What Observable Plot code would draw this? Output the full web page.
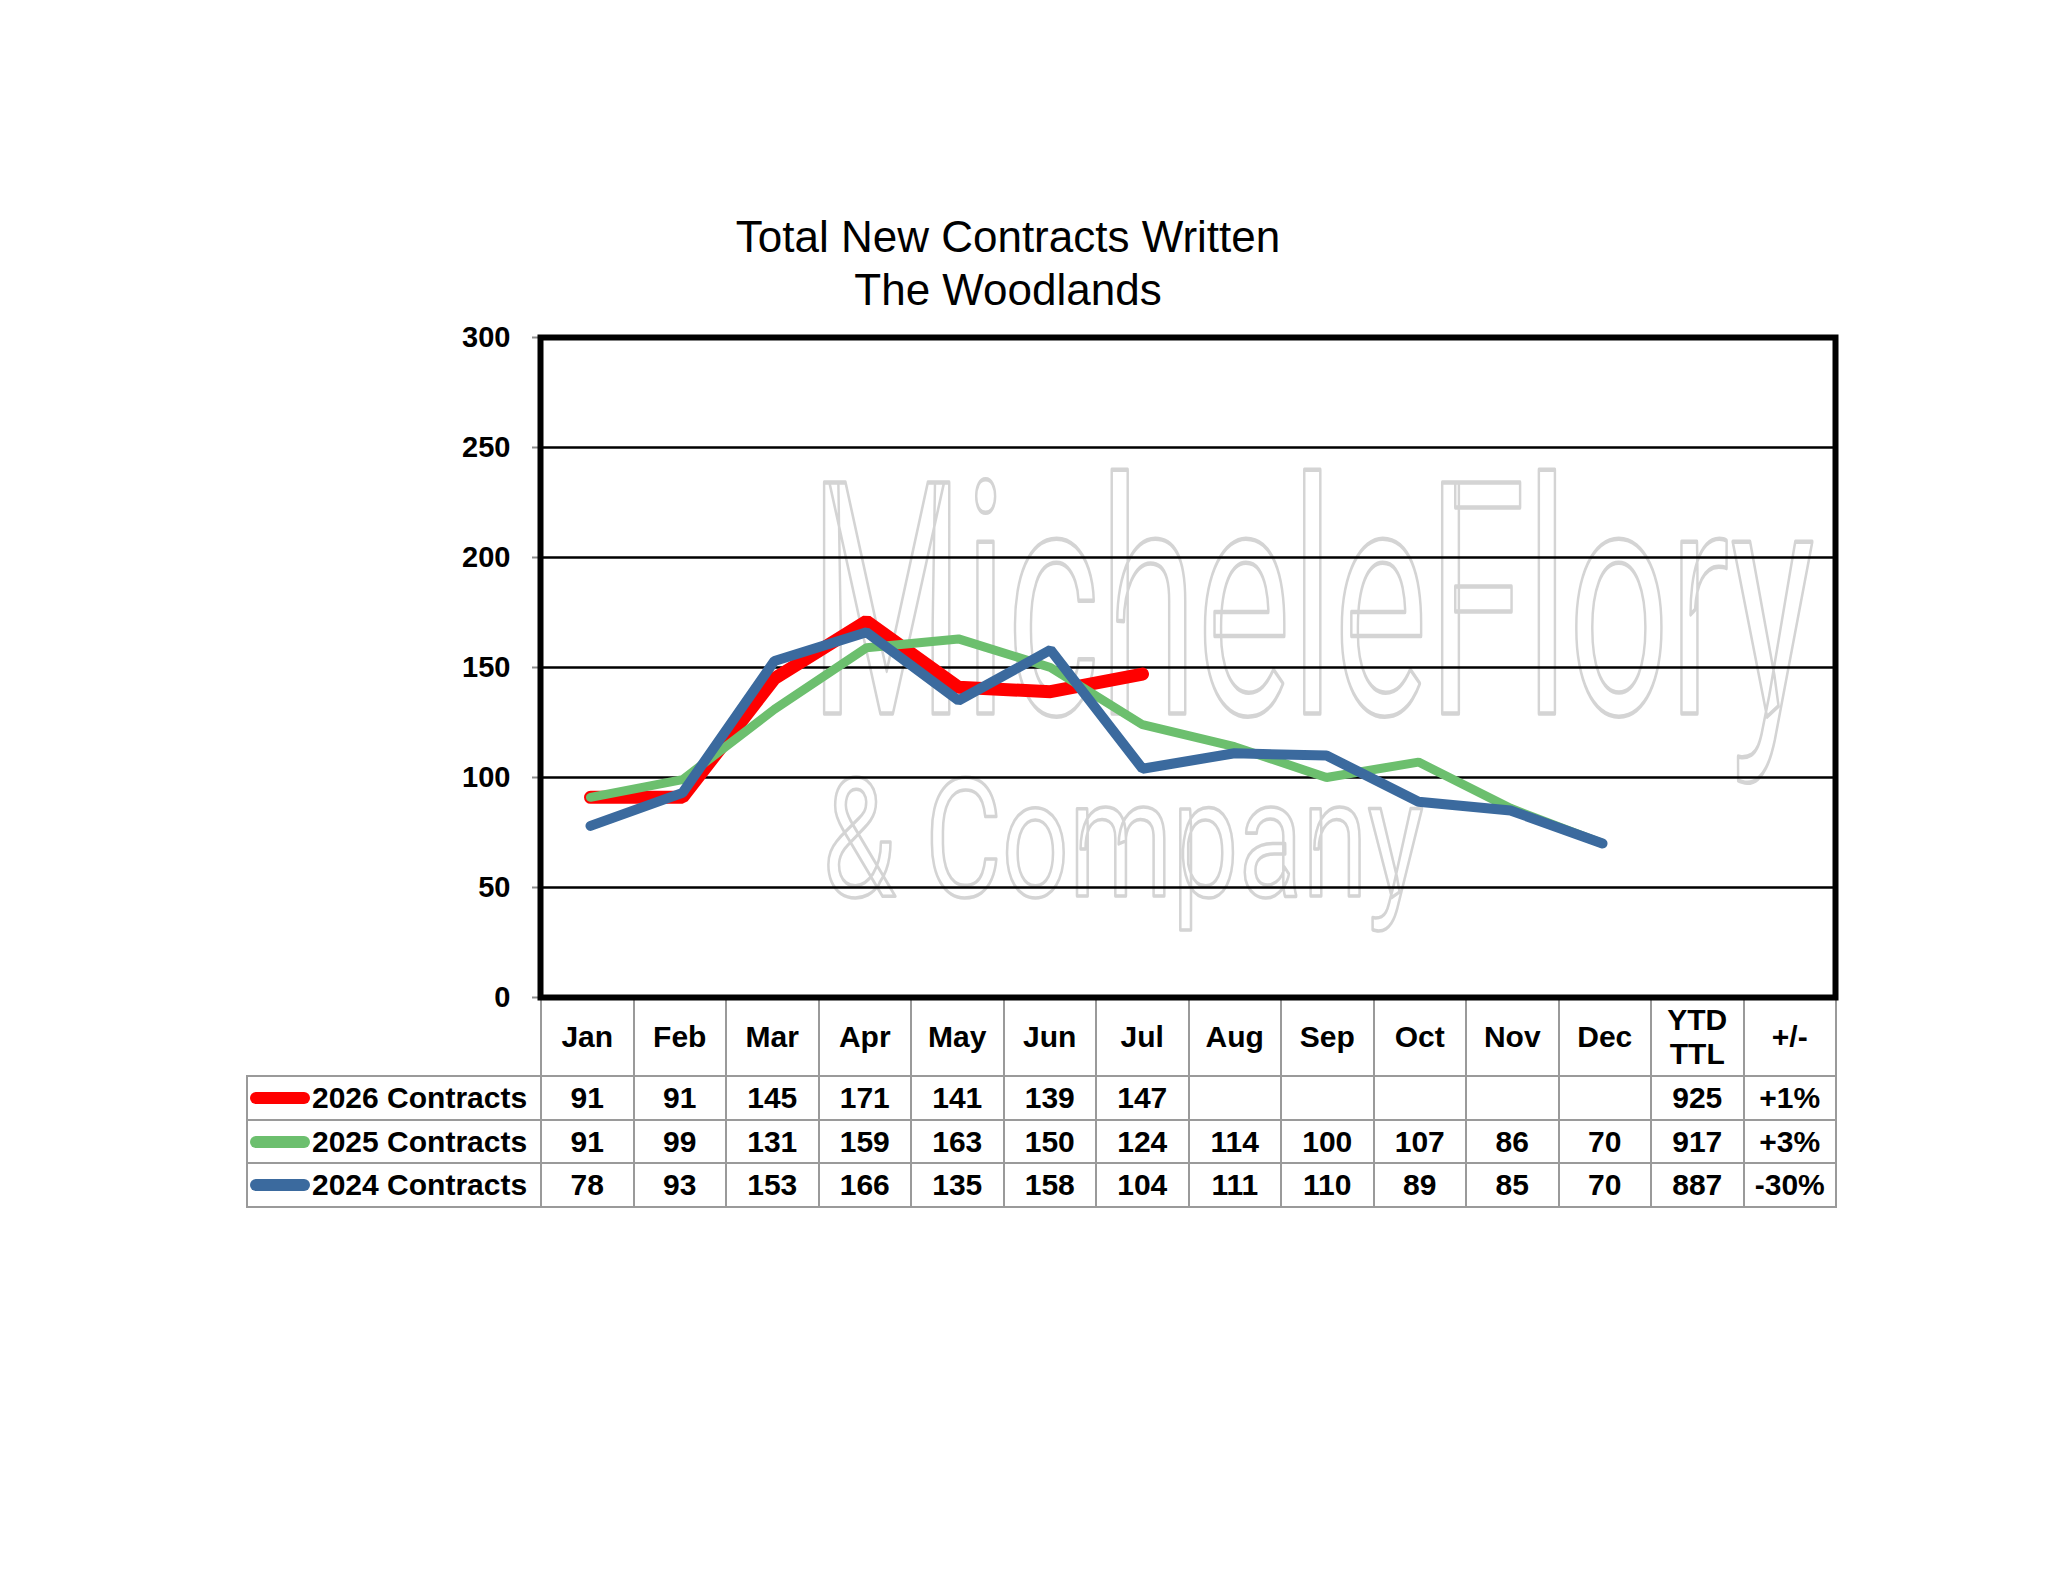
<!DOCTYPE html>
<html>
<head>
<meta charset="utf-8">
<script src="https://cdn.jsdelivr.net/npm/d3@7"></script>
<script src="https://cdn.jsdelivr.net/npm/@observablehq/plot@0.6"></script>
<style>
  html, body { margin: 0; padding: 0; background: #fff; }
  #page { position: relative; width: 2048px; height: 1583px; background: #fff; overflow: hidden;
          font-family: "Liberation Sans", Arial, sans-serif; color: #000; }
  .title { position: absolute; left: 0; width: 2016px; text-align: center; font-size: 44px;
           line-height: 53px; font-weight: normal; }
  #chart { position: absolute; left: 460px; top: 322px; z-index: 2; }
  #table { position: absolute; left: 246px; top: 997px; border-collapse: collapse; table-layout: fixed;
           font-size: 30px; font-weight: bold; z-index: 1; }
  #table td { border: 2px solid #9a9a9a; text-align: center; padding: 0; white-space: nowrap; }
  #table tr.head td { height: 76px; line-height: 34px; }
  #table tr.row td { height: 41.5px; line-height: 41px; }
  #table td.blank { border: none; }
  #table td.legend { text-align: left; padding-left: 2px; }
  .sw { display: inline-block; width: 60px; height: 12px; border-radius: 6px; vertical-align: middle;
        margin-right: 2px; position: relative; top: -2px; }
</style>
</head>
<body>
<div id="page">
  <div class="title" style="top:210px">Total New Contracts Written</div>
  <div class="title" style="top:263px">The Woodlands</div>
  <div id="chart"></div>
  <table id="table"></table>
</div>
<script>
// ---- data ----
const months = ["Jan","Feb","Mar","Apr","May","Jun","Jul","Aug","Sep","Oct","Nov","Dec"];
const extraColumns = ["YTD TTL", "+/-"];
const seriesNames = ["2026 Contracts", "2025 Contracts", "2024 Contracts"];
const values2026 = [91, 91, 145, 171, 141, 139, 147];
const values2025 = [91, 99, 131, 159, 163, 150, 124, 114, 100, 107, 86, 70];
const values2024 = [78, 93, 153, 166, 135, 158, 104, 111, 110, 89, 85, 70];
const ytdTotals = [925, 917, 887];
const changes = ["+1%", "+3%", "-30%"];
const yTicks = [0, 50, 100, 150, 200, 250, 300];
const watermarkLines = ["MicheleFlory", "& Company"];

// ---- styles ----
const seriesColors = ["#ff0000", "#6cbf6e", "#3b6a9e"];
const seriesWidths = [13, 9, 10];
const watermarkWidths = [1005, 601];

const columns = [...months, ...extraColumns];
const seriesValues = [values2026, values2025, values2024];
const rows = seriesValues.map((vals, i) =>
  vals.map((v, j) => ({series: seriesNames[i], month: months[j], value: v})));

const chart = Plot.plot({
  width: 1385,
  height: 690,
  marginLeft: 80,
  marginRight: 10,
  marginTop: 15,
  marginBottom: 15,
  style: {fontFamily: "'Liberation Sans', Arial, sans-serif", fontSize: "29px", fontWeight: "bold",
          color: "black", background: "transparent", overflow: "visible"},
  x: {type: "point", domain: columns, padding: 0.5, axis: null},
  y: {domain: [0, 300], axis: null, label: null},
  marks: [
    Plot.text([watermarkLines[0]], {text: d => d, frameAnchor: "top-left", dx: 269, dy: 376,
      textAnchor: "start", lineAnchor: "bottom", fontFamily: "Roboto", fontSize: 325, fontWeight: "normal",
      fill: "none", stroke: "#d4d4d4", strokeWidth: 4.5}),
    Plot.text([watermarkLines[1]], {text: d => d, frameAnchor: "top-left", dx: 282, dy: 558,
      textAnchor: "start", lineAnchor: "bottom", fontFamily: "Roboto", fontSize: 166, fontWeight: "normal",
      fill: "none", stroke: "#d4d4d4", strokeWidth: 3.5}),
    Plot.ruleY(yTicks.filter(d => d > 0 && d < 300), {stroke: "black", strokeWidth: 2.5}),
    Plot.axisY({ticks: yTicks, tickSize: 8, tickPadding: 22, stroke: "#8c8c8c", strokeWidth: 2,
      fill: "black", label: null, tickFormat: d => String(d)}),
    ...rows.map((r, i) => Plot.line(r, {x: "month", y: "value", stroke: seriesColors[i],
      strokeWidth: seriesWidths[i], strokeLinejoin: "miter", strokeLinecap: "round"})),
    Plot.frame({stroke: "black", strokeWidth: 6})
  ]
});
document.getElementById("chart").appendChild(chart);

// condense the watermark text horizontally to its width in the picture
d3.select(chart).selectAll("text").each(function() {
  const idx = watermarkLines.indexOf(this.textContent);
  if (idx < 0) return;
  const w = this.getComputedTextLength();
  if (!w) return;
  const sx = watermarkWidths[idx] / w;
  const t = this.getAttribute("transform") || "";
  this.setAttribute("transform", t + ` scale(${sx},1)`);
});

// ---- table below the chart ----
const table = d3.select("#table");
const colgroup = table.append("colgroup");
colgroup.append("col").style("width", "294px");
columns.forEach(() => colgroup.append("col").style("width", "92.5px"));

const head = table.append("tr").attr("class", "head");
head.append("td").attr("class", "blank");
columns.forEach(c => {
  const td = head.append("td");
  if (c === "YTD TTL") td.html("YTD<br>TTL"); else td.text(c);
});

seriesNames.forEach((name, i) => {
  const tr = table.append("tr").attr("class", "row");
  const lg = tr.append("td").attr("class", "legend");
  lg.append("span").attr("class", "sw").style("background", seriesColors[i]);
  lg.append("span").text(name);
  months.forEach((m, j) => tr.append("td").text(seriesValues[i][j] != null ? seriesValues[i][j] : ""));
  tr.append("td").text(ytdTotals[i]);
  tr.append("td").text(changes[i]);
});
</script>
</body>
</html>
